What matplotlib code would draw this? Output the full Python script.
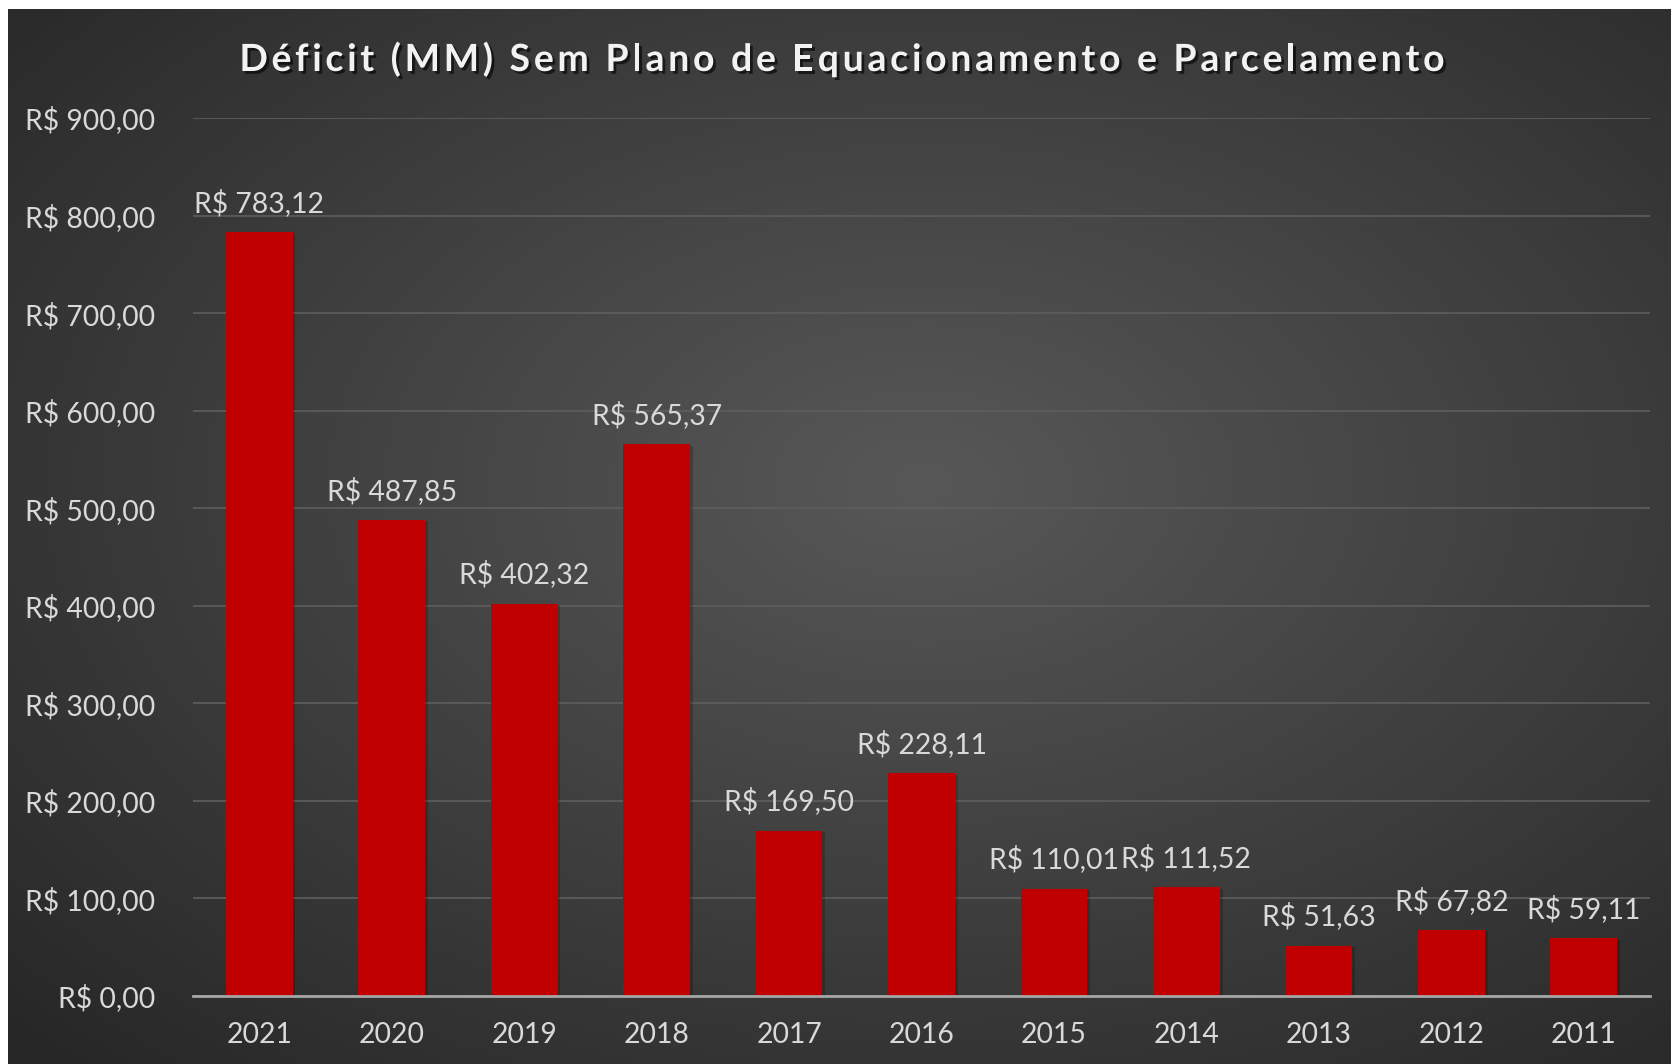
import numpy as np
import matplotlib
matplotlib.use("Agg")
import matplotlib.pyplot as plt
import matplotlib.patheffects as pe
from matplotlib.font_manager import FontProperties

years = ['2021', '2020', '2019', '2018', '2017', '2016', '2015', '2014', '2013', '2012', '2011']
deficit = [783.12, 487.85, 402.32, 565.37, 169.50, 228.11, 110.01, 111.52, 51.63, 67.82, 59.11]
yticks = [0, 100, 200, 300, 400, 500, 600, 700, 800, 900]
title = 'Déficit (MM) Sem Plano de Equacionamento e Parcelamento'


def brl(v):
    # formato brasileiro: virgula decimal
    return 'R$ ' + f'{v:,.2f}'.replace(',', 'X').replace('.', ',').replace('X', '.')


plt.rcParams['font.family'] = ['Lato', 'DejaVu Sans']

W, H = 1671, 1064
fig = plt.figure(figsize=(W / 100, H / 100), dpi=100, facecolor='white')

# fundo escuro com gradiente radial
bg = fig.add_axes([8 / W, 0, 1 - 8 / W, 1 - 9 / H])
bg.set_axis_off()
yy, xx = np.mgrid[0:1:400j, 0:1:600j]
r = np.sqrt(((xx - 0.55) / 0.75) ** 2 + ((yy - 0.45) / 0.75) ** 2)
r = np.clip(r, 0, 1)
shade = 0.345 - (0.345 - 0.155) * r
img = np.dstack([shade, shade, shade])
bg.imshow(img, extent=[0, 1, 0, 1], aspect='auto', origin='upper')
bg.set_xlim(0, 1)
bg.set_ylim(0, 1)

ax = fig.add_axes([193 / W, 1 - 996 / H, (1650 - 193) / W, (996 - 118) / H])
ax.patch.set_alpha(0)

x = np.arange(len(years))
bars = ax.bar(x, deficit, width=0.505, color='#C00000', zorder=3,
              path_effects=[pe.SimplePatchShadow(offset=(2, -1), shadow_rgbFace='black', alpha=0.2), pe.Normal()])

for xi, v in zip(x, deficit):
    ax.annotate(brl(v), (xi, v), xytext=(0, 11), textcoords='offset points',
                ha='center', va='bottom', fontsize=20.4, color='#D9D9D9', zorder=4)

ax.set_xlim(-0.5, len(years) - 0.5)
ax.set_ylim(0, 900)
ax.set_yticks(yticks)
ax.set_yticklabels([brl(t) for t in yticks])
ax.set_xticks(x)
ax.set_xticklabels(years)
ax.tick_params(axis='both', length=0, labelsize=20.4, colors='#D9D9D9')
ax.tick_params(axis='y', pad=27)
ax.tick_params(axis='x', pad=19)
ax.yaxis.grid(True, color='#5E5E5E', linewidth=1.2, zorder=0)
for s in ['top', 'right', 'left']:
    ax.spines[s].set_visible(False)
ax.spines['bottom'].set_color('#A6A6A6')
ax.spines['bottom'].set_linewidth(2)
ax.spines['bottom'].set_zorder(5)

# titulo com espacamento entre letras
renderer = fig.canvas.get_renderer()
tprop = FontProperties(family=['Lato', 'DejaVu Sans'], weight='bold', size=27)
spacing = 3.7
full_w = renderer.get_text_width_height_descent(title, tprop, ismath=False)[0]
total_w = full_w + spacing * (len(title) - 1)
x0 = 842 - total_w / 2
base_y = 1 - 71 / H
for i, ch in enumerate(title):
    pre_w = renderer.get_text_width_height_descent(title[:i], tprop, ismath=False)[0] if i else 0
    fig.text((x0 + pre_w + spacing * i) / W, base_y, ch, ha='left', va='baseline',
             fontproperties=tprop, color='#F2F2F2',
             path_effects=[pe.withSimplePatchShadow(offset=(2, -2), shadow_rgbFace='black', alpha=0.6)])

fig.savefig('out.png', dpi=100, facecolor=fig.get_facecolor())
